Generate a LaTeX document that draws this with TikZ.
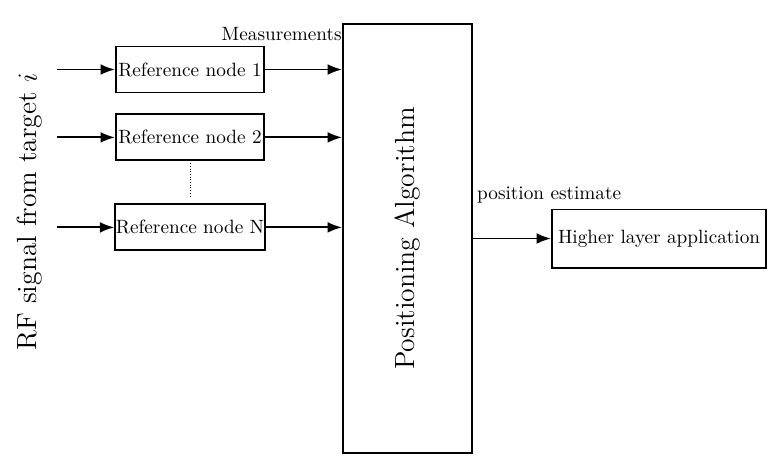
\documentclass[tikz,border=0pt]{standalone}
\usetikzlibrary{arrows.meta, positioning}
\tikzset{box/.style={rectangle,draw,line width=1pt,align=center,inner xsep=0.3pt,inner ysep=1.5pt,minimum height=23.9pt},line/.style={-Latex,line width=1pt}}

\begin{document}
\begin{tikzpicture}[x=0.52pt,y=-0.52pt,node distance=10.4pt and 40.6pt]
\useasboundingbox (0,0) rectangle (778,472);
\node[rotate=90] (rf) at (30,212) {\Large RF signal from target $i$};
\node[box, minimum width=77pt] (r1) at (190,69.5) {Reference node 1};
\node[box, minimum width=77pt, below=of r1] (r2) {Reference node 2};
\node[box, minimum width=77pt, below=21.9pt of r2] (rN) {Reference node N};
\node[box, minimum width=67.1pt, minimum height=223pt] (algo) at (407.5,238.5) {};
\node[rotate=90] (algotext) at (algo.center) {\Large Positioning Algorithm};
\node[box, minimum width=111.3pt, minimum height=30.2pt, right=of algo] (app) {Higher layer application};
\node[anchor=north east, inner xsep=0pt, inner ysep=2pt] (meas) at (algo.north west) {Measurements};
\node[anchor=south west, inner sep=2pt] (est) at ([yshift=16pt]algo.east) {position estimate};
\coordinate[left=30pt of r1] (in1);
\coordinate[left=30pt of r2] (in2);
\coordinate[left=30pt of rN] (inN);
\draw[line] (in1) -- (r1.west);
\draw[line] (in2) -- (r2.west);
\draw[line] (inN) -- (rN.west);
\draw[line] (r1.east) -- (r1.east -| algo.west);
\draw[line] (r2.east) -- (r2.east -| algo.west);
\draw[line] (rN.east) -- (rN.east -| algo.west);
\draw[densely dotted] ([yshift=-1pt]r2.south) -- ([yshift=3pt]rN.north);
\draw[line] (algo.east) -- (app.west);
\end{tikzpicture}
\end{document}
